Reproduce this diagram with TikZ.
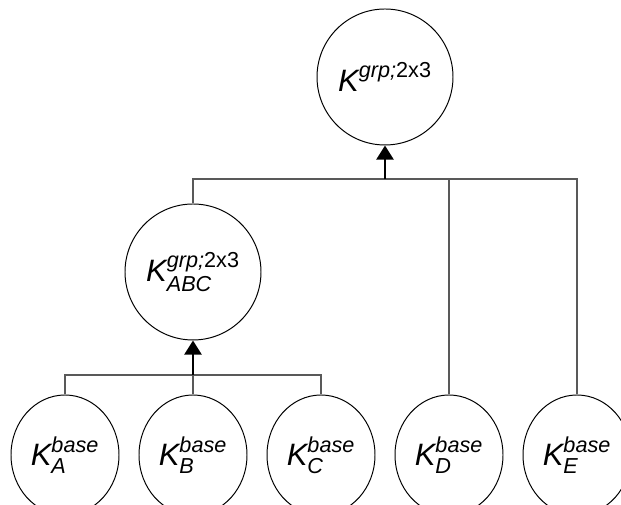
\documentclass[tikz,border=0pt]{standalone}
\usepackage{amsmath}
\usepackage{fontspec}
\setmainfont{Liberation Sans}
\usepackage{tikz}
\usetikzlibrary{arrows.meta, shapes.geometric}

\begin{document}
\begin{tikzpicture}[
    kernel/.style={draw, circle, line width=0.7pt, minimum size=3.4cm, inner sep=0pt, font=\fontsize{22}{26}\selectfont},
    leaf/.style={draw, ellipse, line width=0.7pt, minimum width=2.7cm, minimum height=3.0cm, inner sep=0pt, font=\fontsize{22}{26}\selectfont},
    link/.style={draw=black!65, line width=1pt},
    feed/.style={-{Triangle[width=12pt,length=10pt]}, line width=1.9pt}]
  \clip (0,0) rectangle (15.525,12.625);
  \node[kernel] (top) at (9.625,10.7) {$\text{\itshape K}^{\text{\itshape grp;}\text{2x3}}$};
  \node[kernel] (abc) at (4.825,5.825) {$\text{\itshape K}^{\text{\itshape grp;}\text{2x3}}_{\text{\itshape ABC}}$};
  \node[leaf] (a) at (1.625,1.25) {$\text{\itshape K}^{\text{\itshape base}}_{\text{\itshape A}}$};
  \node[leaf] (b) at (4.825,1.25) {$\text{\itshape K}^{\text{\itshape base}}_{\text{\itshape B}}$};
  \node[leaf] (c) at (8.025,1.25) {$\text{\itshape K}^{\text{\itshape base}}_{\text{\itshape C}}$};
  \node[leaf] (d) at (11.225,1.25) {$\text{\itshape K}^{\text{\itshape base}}_{\text{\itshape D}}$};
  \node[leaf] (e) at (14.425,1.25) {$\text{\itshape K}^{\text{\itshape base}}_{\text{\itshape E}}$};
  % junctions on the two bars
  \coordinate (upjoint) at (9.625,8.15);
  \coordinate (lowjoint) at (4.825,3.25);
  % upper level
  \draw[link] (abc.north) |- (upjoint) -| (e.north);
  \draw[link] (upjoint) -| (d.north);
  \draw[feed] (upjoint) -- (top);
  % lower level
  \draw[link] (a.north) |- (lowjoint) -| (c.north);
  \draw[link] (lowjoint) -- (b.north);
  \draw[feed] (lowjoint) -- (abc);
\end{tikzpicture}
\end{document}
